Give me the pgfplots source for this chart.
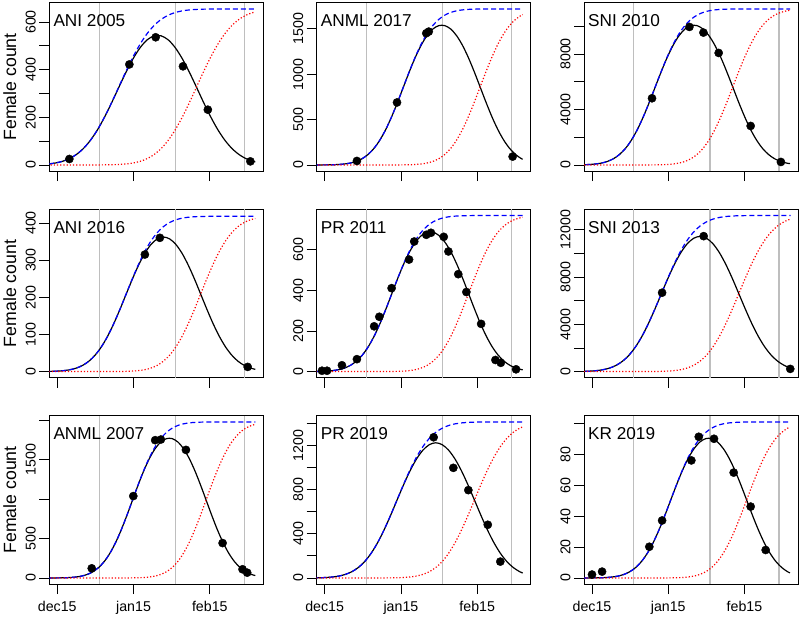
\documentclass[border=0pt]{standalone}
\usepackage{fontspec}
\setmainfont{Liberation Sans}
\usepackage{pgfplots}
\usepackage{pgfplotstable}
\pgfplotsset{compat=1.18}
\definecolor{rgray}{RGB}{190,190,190}

% columns: t = day after 15 Dec, b = cumulative arrivals, r = cumulative departures, k = females present
\pgfplotstableread{
t b r k
-6.63 1.95 0 1.95
-3.75 4.07 0 4.07
-0.88 8.0 0 8.0
2.0 14.9 0 14.9
4.88 26.2 0 26.2
7.75 43.8 0 43.8
10.63 69.2 0 69.2
13.5 103.9 0 103.9
16.38 148.4 0.15 148.2
19.25 202.1 0.38 201.7
22.13 262.8 0.9 261.9
25.0 327.5 1.95 325.5
27.88 392.2 4.07 388.1
30.75 452.9 8.0 444.9
33.63 506.6 14.9 491.7
36.5 551.1 26.2 524.9
39.38 585.8 43.8 542.0
42.25 611.2 69.2 542.0
45.13 628.8 103.9 524.9
48.0 640.1 148.4 491.7
50.88 647.0 202.1 444.9
53.75 650.9 262.8 388.1
56.63 653.0 327.5 325.5
59.5 654.1 392.2 261.9
62.38 654.6 452.9 201.7
65.25 654.8 506.6 148.2
68.13 654.9 551.1 103.8
71.0 655 585.8 69.2
73.88 655 611.2 43.8
76.75 655 628.8 26.2
79.63 655 640.1 14.9
80.5 655 642.2 12.8
}\tabA
\pgfplotstableread{
t b r k
-4.0 0.15 0 0.15
-1.6 0.4 0 0.4
0.8 1.0 0 1.0
3.2 2.3 0 2.3
5.6 5.1 0 5.1
8.0 10.7 0 10.7
10.4 21.0 0 21.0
12.8 39.1 0 39.1
15.2 68.9 0 68.9
17.6 114.9 0 114.9
20.0 181.7 0 181.7
22.4 272.9 0 272.9
24.8 389.8 0 389.8
27.2 530.7 0.15 530.5
29.6 690.2 0.4 689.8
32.0 860 1.0 859.0
34.4 1029.8 2.3 1027.5
36.8 1189.3 5.1 1184.2
39.2 1330.2 10.7 1319.5
41.6 1447.1 21.0 1426.1
44.0 1538.3 39.1 1499.2
46.4 1605.1 68.9 1536.2
48.8 1651.1 114.9 1536.2
51.2 1680.9 181.7 1499.2
53.6 1699.0 272.9 1426.1
56.0 1709.3 389.8 1319.5
58.4 1714.9 530.7 1184.2
60.8 1717.7 690.2 1027.5
63.2 1719.0 860 859.0
65.6 1719.6 1029.8 689.8
68.0 1719.8 1189.3 530.5
70.4 1720 1330.2 389.8
72.8 1720 1447.1 272.9
75.2 1720 1538.3 181.7
77.6 1720 1605.1 114.9
80.0 1720 1651.1 68.9
80.5 1720 1657.4 62.6
}\tabB
\pgfplotstableread{
t b r k
-5.83 6.5 0 6.5
-3.4 15.2 0 15.2
-0.98 33.5 0 33.5
1.45 69.8 0 69.8
3.88 137.4 0 137.4
6.3 255.8 0 255.8
8.73 450.4 0 450.4
11.15 751.1 0 751.1
13.58 1187.8 0 1187.8
16.0 1783.8 0.1 1783.7
18.43 2548.0 0.4 2547.6
20.85 3468.9 1.0 3467.9
23.28 4511.7 2.6 4509.1
25.7 5621.5 6.5 5615.0
28.13 6731.3 15.2 6716.1
30.55 7774.1 33.5 7740.6
32.98 8695.0 69.8 8625.2
35.4 9459.2 137.4 9321.8
37.83 10055.2 255.8 9799.4
40.25 10491.9 450.4 10041.5
42.68 10792.6 751.1 10041.5
45.1 10987.2 1187.8 9799.4
47.53 11105.6 1783.8 9321.8
49.95 11173.2 2548.0 8625.2
52.38 11209.5 3468.9 7740.6
54.8 11227.8 4511.7 6716.1
57.23 11236.5 5621.5 5615.0
59.65 11240.4 6731.3 4509.1
62.08 11242.0 7774.1 3467.9
64.5 11243 8695.0 2547.6
66.93 11243 9459.2 1783.7
69.35 11243 10055.2 1187.8
71.78 11243 10491.9 751.1
74.2 11243 10792.6 450.4
76.63 11243 10987.2 255.8
79.05 11243 11105.6 137.4
80.5 11243 11146.2 96.8
}\tabC
\pgfplotstableread{
t b r k
-4.83 0.24 0 0.24
-2.3 0.56 0 0.56
0.23 1.25 0 1.25
2.75 2.6 0 2.6
5.28 5.1 0 5.1
7.8 9.5 0 9.5
10.33 16.7 0 16.7
12.85 27.9 0 27.9
15.38 44.2 0 44.2
17.9 66.3 0 66.3
20.43 94.7 0 94.7
22.95 129.0 0.1 128.9
25.48 167.7 0.24 167.5
28.0 209.0 0.56 208.4
30.53 250.3 1.25 249.0
33.05 289.0 2.6 286.4
35.58 323.3 5.1 318.2
38.1 351.7 9.5 342.2
40.63 373.8 16.7 357.1
43.15 390.1 27.9 362.2
45.68 401.3 44.2 357.1
48.2 408.5 66.3 342.2
50.73 412.9 94.7 318.2
53.25 415.4 129.0 286.4
55.78 416.75 167.7 249.0
58.3 417.44 209.0 208.4
60.83 417.76 250.3 167.5
63.35 417.9 289.0 128.9
65.88 418 323.3 94.7
68.4 418 351.7 66.3
70.93 418 373.8 44.2
73.45 418 390.1 27.9
75.98 418 401.3 16.7
78.5 418 408.5 9.5
80.5 418 412.0 6.0
}\tabD
\pgfplotstableread{
t b r k
-6.3 0.18 0 0.18
-3.9 0.44 0 0.44
-1.5 1.04 0 1.04
0.9 2.29 0 2.29
3.3 4.78 0 4.78
5.7 9.40 0 9.40
8.1 17.49 0 17.49
10.5 30.81 0 30.81
12.9 51.38 0 51.38
15.3 81.24 0 81.24
17.7 122.01 0 122.0
20.1 174.28 0 174.26
22.5 237.27 0.07 237.20
24.9 308.59 0.18 308.42
27.3 384.5 0.44 384.05
29.7 460.41 1.04 459.37
32.1 531.73 2.29 529.44
34.5 594.72 4.78 589.95
36.9 646.99 9.40 637.59
39.3 687.76 17.49 670.26
41.7 717.62 30.81 686.82
44.1 738.19 51.38 686.82
46.5 751.51 81.24 670.26
48.9 759.60 122.01 637.59
51.3 764.22 174.28 589.95
53.7 766.71 237.27 529.44
56.1 767.96 308.59 459.37
58.5 768.56 384.5 384.05
60.9 768.82 460.41 308.42
63.3 769 531.8 237.20
65.7 769 594.74 174.26
68.1 769 647.0 122.0
70.5 769 687.76 81.24
72.9 769 717.62 51.38
75.3 769 738.19 30.81
77.7 769 751.51 17.49
80.1 769 759.6 9.40
80.5 769 760.37 8.63
}\tabE
\pgfplotstableread{
t b r k
-5.93 7.6 0 7.6
-3.3 17.8 0 17.8
-0.68 39.4 0 39.4
1.95 82.0 0 82.0
4.58 161.4 0 161.4
7.2 300.6 0 300.6
9.83 529.2 0 529.2
12.45 882.6 0 882.6
15.08 1395.7 0 1395.7
17.7 2096.1 0.4 2095.6
20.33 2994.0 1.2 2992.8
22.95 4076.1 3.1 4073.1
25.58 5301.4 7.6 5293.8
28.2 6605.5 17.8 6587.7
30.83 7909.6 39.4 7870.2
33.45 9134.9 82.0 9052.8
36.08 10217.0 161.4 10055.6
38.7 11114.9 300.6 10814.4
41.33 11815.3 529.2 11286.0
43.95 12328.4 882.6 11445.7
46.58 12681.8 1395.7 11286.0
49.2 12910.4 2096.1 10814.4
51.83 13049.6 2994.0 10055.6
54.45 13129.0 4076.1 9052.8
57.08 13171.6 5301.4 7870.2
59.7 13193.2 6605.5 6587.7
62.33 13203.4 7909.6 5293.8
64.95 13208.0 9134.9 4073.1
67.58 13209.8 10217.0 2992.8
70.2 13211 11115.4 2095.6
72.83 13211 11815.3 1395.7
75.45 13211 12328.4 882.6
78.08 13211 12681.8 529.2
80.7 13211 12910.4 300.6
}\tabF
\pgfplotstableread{
t b r k
-3.9 0.17 0 0.17
-1.6 0.46 0 0.46
0.7 1.14 0 1.14
3.0 2.67 0 2.67
5.3 5.89 0 5.89
7.6 12.27 0 12.27
9.9 24.15 0 24.15
12.2 44.95 0 44.95
14.5 79.16 0 79.16
16.8 132.02 0 132.02
19.1 208.76 0 208.76
21.4 313.51 0 313.49
23.7 447.82 0.06 447.76
26.0 609.68 0.17 609.50
28.3 792.95 0.46 792.49
30.6 988.0 1.14 986.85
32.9 1183.05 2.67 1180.38
35.2 1366.32 5.89 1360.44
37.5 1528.18 12.27 1515.91
39.8 1662.49 24.15 1638.34
42.1 1767.24 44.95 1722.28
44.4 1843.98 79.16 1764.83
46.7 1896.84 132.02 1764.83
49.0 1931.05 208.76 1722.28
51.3 1951.85 313.51 1638.34
53.6 1963.73 447.82 1515.91
55.9 1970.11 609.68 1360.44
58.2 1973.33 792.95 1180.38
60.5 1974.86 988.0 986.85
62.8 1975.54 1183.05 792.49
65.1 1975.83 1366.5 609.50
67.4 1976 1528.24 447.76
69.7 1976 1662.51 313.49
72.0 1976 1767.24 208.76
74.3 1976 1843.98 132.02
76.6 1976 1896.84 79.16
78.9 1976 1931.05 44.95
80.5 1976 1945.6 30.4
}\tabG
\pgfplotstableread{
t b r k
-4.73 0.82 0 0.82
-2.1 1.91 0 1.91
0.53 4.21 0 4.21
3.15 8.78 0 8.78
5.78 17.28 0 17.28
8.4 32.17 0 32.17
11.03 56.64 0 56.64
13.65 94.47 0 94.47
16.28 149.39 0 149.39
18.9 224.35 0.05 224.3
21.53 320.46 0.13 320.3
24.15 436.28 0.33 435.95
26.78 567.42 0.82 566.60
29.4 707.0 1.91 705.09
32.03 846.58 4.21 842.36
34.65 977.72 8.78 968.94
37.28 1093.54 17.28 1076.27
39.9 1189.65 32.17 1157.49
42.53 1264.61 56.64 1207.97
45.15 1319.53 94.47 1225.06
47.78 1357.36 149.39 1207.97
50.4 1381.83 224.35 1157.49
53.03 1396.72 320.46 1076.27
55.65 1405.22 436.28 968.94
58.28 1409.79 567.42 842.36
60.9 1412.09 707.0 705.09
63.53 1413.18 846.58 566.60
66.15 1413.67 977.72 435.95
68.78 1414 1093.7 320.3
71.4 1414 1189.7 224.3
74.03 1414 1264.61 149.39
76.65 1414 1319.53 94.47
79.28 1414 1357.36 56.64
80.5 1414 1368.74 45.26
}\tabH
\pgfplotstableread{
t b r k
-3.63 0.009 0 0.009
-1.25 0.024 0 0.024
1.13 0.058 0 0.058
3.5 0.136 0 0.136
5.88 0.301 0 0.301
8.25 0.627 0 0.627
10.63 1.234 0 1.234
13.0 2.298 0 2.298
15.38 4.046 0 4.046
17.75 6.748 0 6.748
20.13 10.671 0 10.671
22.5 16.025 0 16.025
24.88 22.890 0 22.89
27.25 31.163 0.009 31.153
29.63 40.530 0.024 40.507
32.0 50.5 0.058 50.441
34.38 60.470 0.136 60.333
36.75 69.837 0.301 69.536
39.13 78.110 0.627 77.483
41.5 84.975 1.234 83.741
43.88 90.329 2.298 88.032
46.25 94.252 4.046 90.206
48.63 96.954 6.748 90.206
51.0 98.702 10.671 88.032
53.38 99.766 16.025 83.741
55.75 100.373 22.890 77.483
58.13 100.699 31.163 69.536
60.5 100.864 40.530 60.333
62.88 100.942 50.5 50.441
65.25 100.976 60.470 40.507
67.63 100.991 69.847 31.153
70.0 101 78.11 22.89
72.38 101 84.975 16.025
74.75 101 90.329 10.671
77.13 101 94.252 6.748
79.5 101 96.954 4.046
80.5 101 97.69 3.31
}\tabI

\tikzset{
  curveK/.style={black, line width=1.2pt},
  curveB/.style={blue, line width=1.2pt, dash pattern=on 5pt off 3pt},
  curveR/.style={red, line width=1.2pt, dash pattern=on 1.2pt off 2pt},
  gline/.style={rgray, line width=1.2pt},
  dots/.style={only marks, mark=*, mark size=4.1pt, black},
}

\pgfplotsset{
  panel/.style={
    scale only axis, width=214pt, height=168.5pt,
    anchor=north west,
    xmin=-3.25, xmax=83.75,
    scaled y ticks=false, scaled x ticks=false,
    axis line style={line width=0.8pt},
    tick align=outside, tick pos=left,
    major tick length=10pt,
    tick style={black, line width=0.8pt},
    xtick={0,31,62}, xticklabels={},
    ticklabel style={font=\fontsize{14.2}{14.2}\selectfont},
    xticklabel style={yshift=-3pt},
    yticklabel style={rotate=90, anchor=south},
    clip=true,
  },
  ylab/.style={ylabel={Female count},
    ylabel style={at={(axis description cs:-0.1556,0.5)}, anchor=base,
      font=\fontsize{17.7}{17.7}\selectfont}},
  xlab/.style={xticklabels={dec15,jan15,feb15}},
}

\newcommand{\curves}[3]{%
  \addplot[gline] coordinates {(17,#2) (17,#3)};
  \addplot[gline] coordinates {(48,#2) (48,#3)};
  \addplot[gline] coordinates {(76,#2) (76,#3)};
  \addplot[curveK, smooth] table[x=t,y=k] {#1};
  \addplot[curveB, smooth] table[x=t,y=b] {#1};
  \addplot[curveR, smooth] table[x=t,y=r] {#1};
}
\newcommand{\ptitle}[1]{\node[anchor=base west, inner sep=0pt,
  font=\fontsize{17.2}{17.2}\selectfont] at (rel axis cs:0.0187,0.8576) {#1};}

\begin{document}
\begin{tikzpicture}
\path[use as bounding box] (0pt,0pt) rectangle (800pt,618pt);

% Row 1
\begin{axis}[panel, ylab, at={(49.3pt,615.3pt)}, ymin=-26.2, ymax=681.2,
  ytick={0,100,200,300,400,500,600}, yticklabels={0,,200,,400,,600}]
\curves{\tabA}{-26.2}{681.2}
\addplot[dots] coordinates {(4.9,25) (29.3,422) (40,536) (51.1,414) (61.2,232) (78.5,15)};
\ptitle{ANI 2005}
\end{axis}

\begin{axis}[panel, at={(316.7pt,615.3pt)}, ymin=-68.8, ymax=1788.8,
  ytick={0,500,1000,1500}, yticklabels={0,500,1000,1500}]
\curves{\tabB}{-68.8}{1788.8}
\addplot[dots] coordinates {(13.1,44) (29.4,689) (41.3,1452) (42.3,1470) (76.4,92)};
\ptitle{ANML 2017}
\end{axis}

\begin{axis}[panel, at={(584pt,615.3pt)}, ymin=-449.7, ymax=11692.7,
  ytick={0,2000,4000,6000,8000,10000}, yticklabels={0,,4000,,8000,}]
\curves{\tabC}{-449.7}{11692.7}
\addplot[dots] coordinates {(24.4,4805) (39.6,9946) (45.3,9538) (51.5,8072) (64.5,2811) (76.8,216)};
\ptitle{SNI 2010}
\end{axis}

% Row 2
\begin{axis}[panel, ylab, at={(49.3pt,408.7pt)}, ymin=-16.8, ymax=436.8,
  ytick={0,100,200,300,400}, yticklabels={0,100,200,300,400}]
\curves{\tabD}{-16.8}{436.8}
\addplot[dots] coordinates {(35.6,315) (41.7,360) (77.4,12.5)};
\ptitle{ANI 2016}
\end{axis}

\begin{axis}[panel, at={(316.7pt,408.7pt)}, ymin=-30.8, ymax=799.8,
  ytick={0,200,400,600}, yticklabels={0,200,400,600}]
\curves{\tabE}{-30.8}{799.8}
\addplot[dots] coordinates {(-1.1,4) (0.95,4) (7.0,31) (13.1,61) (20.1,223) (22.2,270) (27.2,411) (34.3,552) (36.4,641) (41.3,674) (43.2,684) (48.4,664) (50.3,592) (54.3,480) (57.6,392) (63.6,235) (69.4,57) (71.6,43) (77.8,11)};
\ptitle{PR 2011}
\end{axis}

\begin{axis}[panel, at={(584pt,408.7pt)}, ymin=-528.4, ymax=13739.4,
  ytick={0,2000,4000,6000,8000,10000,12000}, yticklabels={0,,4000,,8000,,12000}]
\curves{\tabF}{-528.4}{13739.4}
\addplot[dots] coordinates {(28.5,6676) (45.4,11465) (80.6,225)};
\ptitle{SNI 2013}
\end{axis}

% Row 3
\begin{axis}[panel, ylab, xlab, at={(49.3pt,202.3pt)}, ymin=-79, ymax=2055,
  ytick={0,500,1000,1500,2000}, yticklabels={0,500,,1500,}]
\curves{\tabG}{-79}{2055}
\addplot[dots] coordinates {(14.0,122) (30.9,1037) (39.8,1745) (42.1,1753) (52.3,1622) (67.2,442) (75.3,110) (77.2,67)};
\ptitle{ANML 2007}
\end{axis}

\begin{axis}[panel, xlab, at={(316.7pt,202.3pt)}, ymin=-56.6, ymax=1470.6,
  ytick={0,200,400,600,800,1000,1200,1400}, yticklabels={0,,400,,800,,1200,}]
\curves{\tabH}{-56.6}{1470.6}
\addplot[dots] coordinates {(44.3,1275) (52.3,998) (58.4,796) (66.3,482) (71.4,148)};
\ptitle{PR 2019}
\end{axis}

\begin{axis}[panel, xlab, at={(584pt,202.3pt)}, ymin=-4.04, ymax=105.04,
  ytick={0,20,40,60,80,100}, yticklabels={0,20,40,60,80,}]
\curves{\tabI}{-4.04}{105.04}
\addplot[dots] coordinates {(0,2.2) (4.1,4.1) (23.3,20.2) (28.5,37.2) (40.4,76.1) (43.4,91.4) (49.6,90.1) (57.6,68.2) (64.5,46.2) (70.6,18.1)};
\ptitle{KR 2019}
\end{axis}
\end{tikzpicture}
\end{document}
